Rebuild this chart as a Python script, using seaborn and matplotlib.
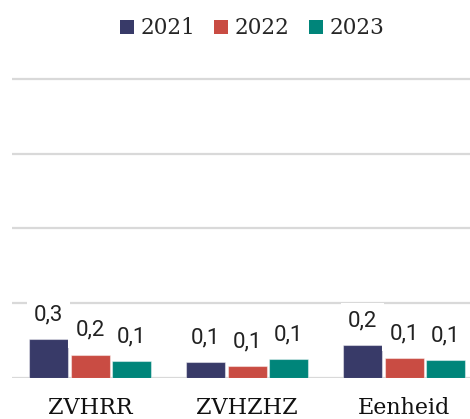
import matplotlib
matplotlib.use("Agg")
import matplotlib.pyplot as plt
from matplotlib.patches import Patch
import seaborn as sns
import pandas as pd

# Data
categories = ["ZVHRR", "ZVHZHZ", "Eenheid"]
years = ["2021", "2022", "2023"]
values_2021 = [0.257, 0.104, 0.218]
values_2022 = [0.152, 0.077, 0.129]
values_2023 = [0.111, 0.122, 0.118]
colors = ["#383a68", "#c94c43", "#00857a"]

series = {"2021": values_2021, "2022": values_2022, "2023": values_2023}
df = pd.DataFrame(
    [(c, y, v) for y in years for c, v in zip(categories, series[y])],
    columns=["categorie", "jaar", "waarde"],
)

sns.set_theme(style="white")
plt.rcParams["font.family"] = ["DejaVu Serif"]

W, H = 470, 419
fig = plt.figure(figsize=(W / 100, H / 100), dpi=100)
ax = fig.add_axes([12 / W, 41.5 / H, 1 - 12 / W, 306 / H])

sns.barplot(
    data=df, x="categorie", y="waarde", hue="jaar",
    order=categories, hue_order=years, palette=colors,
    width=0.8, gap=0.07, legend=False, ax=ax,
    edgecolor=(1, 1, 1, 0.45), linewidth=0.8, saturation=1,
)

ax.set_xlim(-0.497, 2.42)
ax.set_ylim(0, 2.05)
ax.set_yticks([0, 0.5, 1.0, 1.5, 2.0])
ax.set_yticklabels([])
ax.yaxis.grid(True, color="#d9d9d9", linewidth=1.6)
ax.set_axisbelow(True)
for s in ax.spines.values():
    s.set_visible(False)
ax.tick_params(axis="both", length=0)
ax.tick_params(axis="y", left=False, labelleft=False)
ax.set_xlabel("")
ax.set_ylabel("")
for lbl in ax.get_xticklabels():
    lbl.set_fontsize(16)
    lbl.set_family("DejaVu Serif")
    lbl.set_color("#111111")
ax.tick_params(axis="x", pad=14)

# Value labels above each bar
for cont, y in zip(ax.containers, years):
    labels = [f"{v:.1f}".replace(".", ",") for v in series[y]]
    ax.bar_label(
        cont, labels=labels, padding=10, fontsize=16,
        family="Roboto", color="#222222",
        bbox=dict(facecolor="white", edgecolor="none", pad=5),
    )

handles = [Patch(facecolor=c, edgecolor="none") for c in colors]
fig.legend(
    handles, years, loc="center", bbox_to_anchor=(252 / W, 1 - 28.5 / H),
    ncol=3, frameon=False, handlelength=0.65,
    handleheight=0.65, handletextpad=0.3, columnspacing=0.9,
    prop={"family": "DejaVu Serif", "size": 15.5},
)

fig.savefig("out.png", dpi=100)
